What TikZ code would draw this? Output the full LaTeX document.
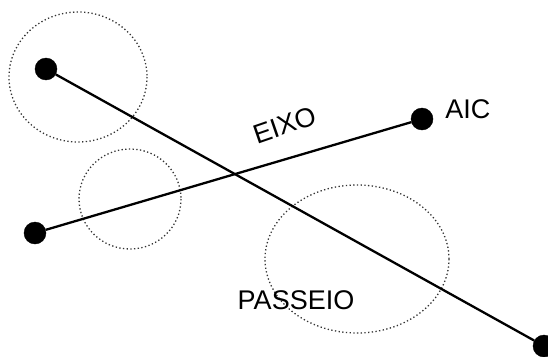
\documentclass[tikz,border=0pt]{standalone}
\usepackage{fontspec}
\setmainfont{Liberation Sans}
\usepackage{tikz}
\usetikzlibrary{positioning}

\begin{document}
\begin{tikzpicture}[
    x=1pt, y=-1pt,
    endpoint/.style={draw, circle, fill=black, minimum size=22pt, inner sep=0pt},
    axis line/.style={line width=2.3pt},
    zone/.style={line width=1.3pt, dash pattern=on 1.3pt off 2.4pt, black!80},
    label/.style={font=\fontsize{27}{27}\selectfont, inner sep=0pt}
  ]
    \useasboundingbox (0,0) rectangle (548,356);

    % Dotted zones
    \draw[zone] (78,77) ellipse [x radius=69, y radius=65];
    \draw[zone] (130,199) ellipse [x radius=51, y radius=50];
    \draw[zone] (357,259) ellipse [x radius=92, y radius=74];

    % End points
    \node[endpoint] (P-1) at (46,69)   {};
    \node[endpoint] (P-2) at (544,346) {};
    \node[endpoint] (E-1) at (35,233)  {};
    \node[endpoint] (E-2) at (422,119) {};

    % Lines
    \draw[axis line] (P-1) -- (P-2);
    \draw[axis line] (E-1) -- (E-2);

    % Labels
    \node[label, right=12pt of E-2, yshift=10pt] (AIC) {AIC};
    \node[label, rotate=19] (EIXO) at (285,125) {EIXO};
    \node[label] (PASSEIO) at (296,300) {PASSEIO};
  \end{tikzpicture}
\end{document}
